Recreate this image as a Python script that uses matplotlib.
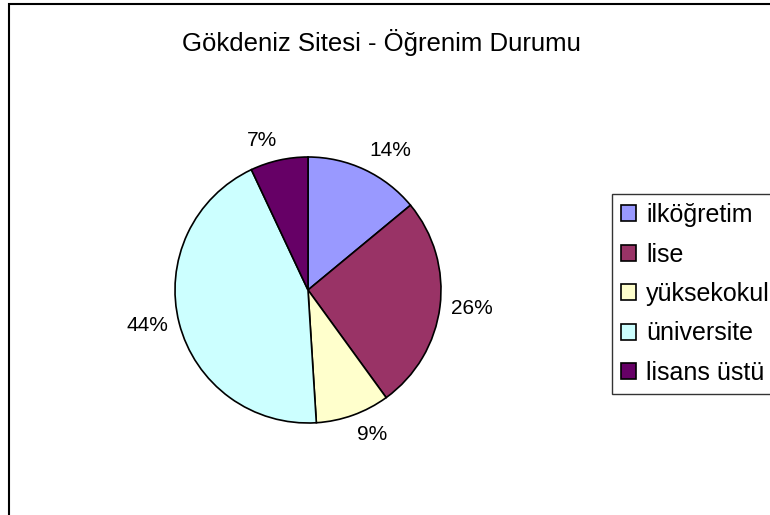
import matplotlib
matplotlib.use("Agg")
import numpy as np
import matplotlib.pyplot as plt
from matplotlib.patches import Rectangle

plt.rcParams['font.family'] = ['Liberation Sans', 'DejaVu Sans']

title = "Gökdeniz Sitesi - Öğrenim Durumu"
categories = ["ilköğretim", "lise", "yüksekokul", "üniversite", "lisans üstü"]
values = [14, 26, 9, 44, 7]
colors = ["#9999FF", "#993366", "#FFFFCC", "#CCFFFF", "#660066"]
pct_labels = [f"{v / sum(values) * 100:.0f}%" for v in values]

W, H = 770, 515
fig = plt.figure(figsize=(W / 100, H / 100), dpi=100)
fig.patch.set_facecolor("white")

# outer chart frame (cropped on right/bottom)
fig.patches.append(Rectangle((9 / W, -0.05), 1.2, 1 - 4 / H + 0.05,
                             transform=fig.transFigure, fill=False,
                             edgecolor="black", linewidth=1.5))

cx, cy, r = 308, H - 290, 133
ax = fig.add_axes([(cx - r) / W, (cy - r) / H, 2 * r / W, 2 * r / H])
wedges, texts = ax.pie(
    values, colors=colors, startangle=90, counterclock=False,
    labels=pct_labels, labeldistance=1.08,
    wedgeprops=dict(edgecolor="black", linewidth=1.2),
    textprops=dict(fontsize=15, color="black"))
for w, t in zip(wedges, texts):
    ang = np.deg2rad((w.theta1 + w.theta2) / 2)
    s = np.sin(ang)
    if s > 0.5:
        t.set_va("bottom")
    elif s < -0.5:
        t.set_va("top")
    else:
        t.set_va("center")
ax.set_xlim(-1, 1)
ax.set_ylim(-1, 1)
ax.set_aspect("equal")
ax.axis("off")

fig.text(381 / W, 1 - 43 / H, title, ha="center", va="center", fontsize=18.5)

leg = fig.legend(wedges, categories, loc="upper left",
                 bbox_to_anchor=(612 / W, 1 - 194 / H),
                 bbox_transform=fig.transFigure,
                 frameon=True, fancybox=False, shadow=False,
                 fontsize=18, handlelength=0.6, handleheight=0.6,
                 handletextpad=0.4, labelspacing=0.62, borderpad=0.36,
                 borderaxespad=0)
leg.get_frame().set_edgecolor("black")
leg.get_frame().set_linewidth(1.0)

fig.savefig("out.png", dpi=100, facecolor="white")
